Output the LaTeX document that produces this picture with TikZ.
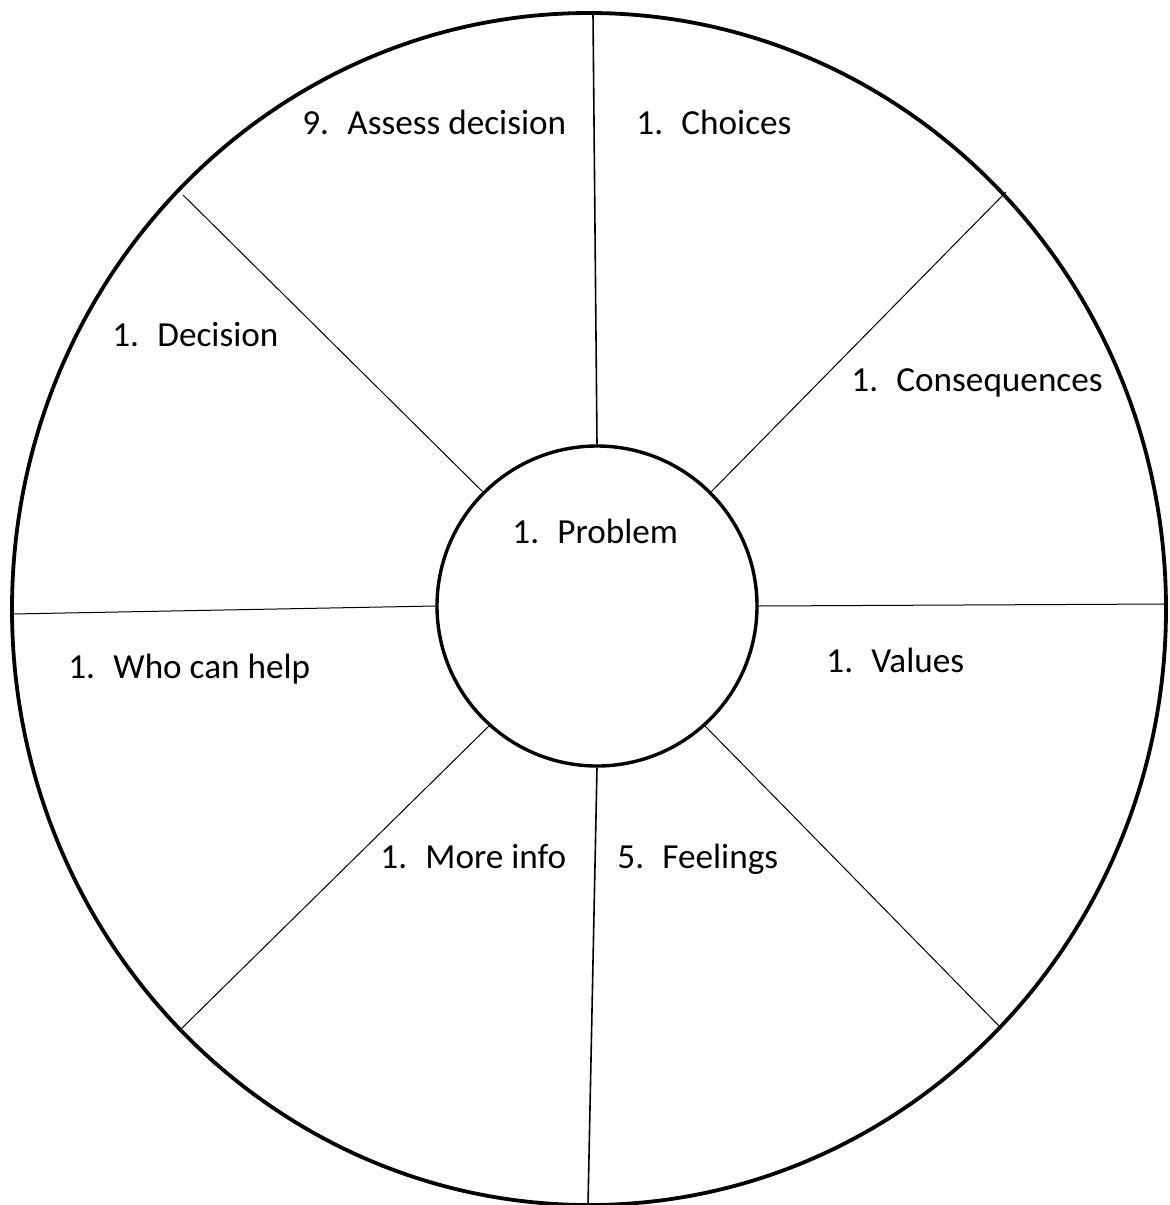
\documentclass[tikz,border=0pt]{standalone}
\usepackage{fontspec}
\setmainfont{Carlito}
\newcommand{\stepitem}[2]{#1.\hspace{0.52em}#2}
\begin{document}
\begin{tikzpicture}[x=0.5pt,y=-0.5pt,
  rim/.style={line width=1.9pt},
  spoke/.style={line width=0.5pt},
  hub/.style={circle,draw,line width=1.7pt,minimum size=160pt,inner sep=0pt,fill=white},
  label/.style={anchor=base west,inner sep=0pt,font=\fontsize{17.6}{21}\selectfont}]
\useasboundingbox (0,0) rectangle (1169,1205);
\clip (0,0) rectangle (1169,1205);
%Wheel:
\draw[rim] (589,609) ellipse [x radius=577, y radius=596];
\node[hub] (hub) at (597,606) {};
%Rim points:
\coordinate (n) at (593,14);
\coordinate (s) at (588,1205);
\coordinate (w) at (12,614);
\coordinate (e) at (1166,604);
\coordinate (nw) at (183,195);
\coordinate (ne) at (1006,192);
\coordinate (sw) at (180,1030);
\coordinate (se) at (1000,1027);
%Spokes:
\draw[spoke, line width=0.8pt] (hub.90) -- (n);
\draw[spoke, line width=0.8pt] (hub.-90) -- (s);
\draw[spoke] (hub.180) -- (w);
\draw[spoke] (hub.0) -- (e);
\draw[spoke] (hub.135) -- (nw);
\draw[spoke] (hub.45) -- (ne);
\draw[spoke] (hub.-132) -- (sw);
\draw[spoke] (hub.-48) -- (se);
%Labels:
\node[label] (assess) at (302,134) {\stepitem{9}{Assess decision}};
\node[label] (choices) at (636,134) {\stepitem{1}{Choices}};
\node[label] (decision) at (112,346) {\stepitem{1}{Decision}};
\node[label] (conseq) at (851,391) {\stepitem{1}{Consequences}};
\node[label] (problem) at (512,543) {\stepitem{1}{Problem}};
\node[label] (help) at (68,678) {\stepitem{1}{Who can help}};
\node[label] (values) at (826,672) {\stepitem{1}{Values}};
\node[label] (info) at (380,868) {\stepitem{1}{More info}};
\node[label] (feelings) at (617,868) {\stepitem{5}{Feelings}};
\end{tikzpicture}
\end{document}
